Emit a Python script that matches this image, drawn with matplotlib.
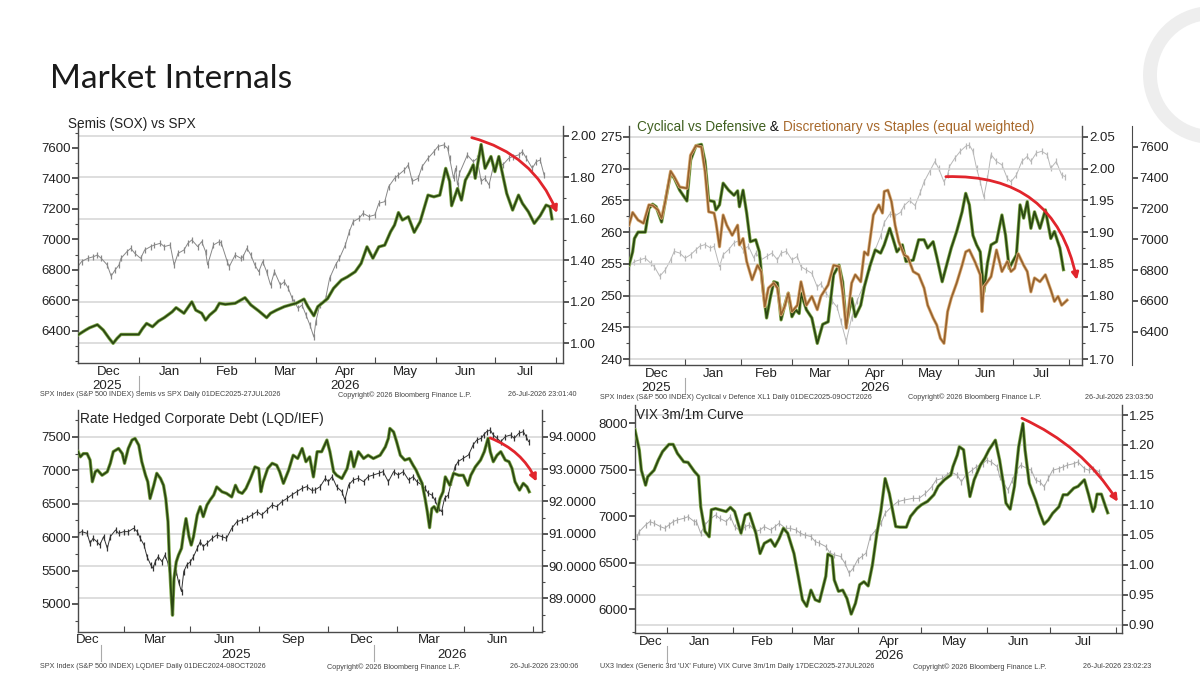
import matplotlib
matplotlib.use("Agg")
import matplotlib.pyplot as plt
import matplotlib.dates as mdates
import matplotlib.transforms as mtransforms
from matplotlib.patches import Arc
from matplotlib.ticker import MultipleLocator, FormatStrFormatter
import pandas as pd

# ---------------- data ----------------
# every series is (day offset from the chart's first date, value)

# Semis (SOX) vs SPX, first date 01 Dec 2025
semis_day = [0, 4, 6, 10, 13, 16, 18, 20, 22, 31,
             33, 35, 38, 41, 44, 48, 50, 54, 58, 60,
             63, 65, 67, 70, 72, 75, 80, 85, 88, 92,
             96, 98, 101, 105, 109, 111, 115, 117, 120, 122,
             125, 127, 130, 134, 137, 141, 144, 147, 150, 153,
             156, 159, 161, 163, 165, 168, 171, 174, 178, 181,
             184, 187, 189, 190, 193, 195, 197, 199, 201, 202,
             205, 207, 210, 212, 214, 216, 218, 221, 224, 226,
             229, 232, 235, 238, 240, 241]
semis_ratio = [1.04, 1.064, 1.075, 1.09, 1.064, 1.024, 1.00, 1.024, 1.043, 1.043,
               1.072, 1.096, 1.08, 1.107, 1.124, 1.152, 1.172, 1.145, 1.20, 1.16,
               1.145, 1.112, 1.136, 1.16, 1.193, 1.188, 1.193, 1.22, 1.185, 1.156,
               1.124, 1.145, 1.16, 1.177, 1.188, 1.193, 1.213, 1.177, 1.133, 1.177,
               1.20, 1.216, 1.265, 1.305, 1.32, 1.345, 1.385, 1.465, 1.41, 1.465,
               1.473, 1.538, 1.57, 1.63, 1.594, 1.61, 1.535, 1.586, 1.714, 1.706,
               1.714, 1.843, 1.78, 1.663, 1.746, 1.69, 1.786, 1.82, 1.86, 1.795,
               1.958, 1.843, 1.90, 1.827, 1.90, 1.81, 1.722, 1.642, 1.714, 1.674,
               1.634, 1.578, 1.615, 1.666, 1.658, 1.60]
spx1_day = [0, 2, 5, 8, 10, 12, 15, 17, 19, 21,
            22, 25, 27, 29, 32, 34, 37, 39, 42, 44,
            47, 49, 51, 54, 56, 58, 61, 63, 65, 66,
            69, 72, 73, 76, 77, 80, 83, 84, 86, 88,
            90, 92, 94, 96, 98, 100, 103, 105, 107, 109,
            110, 112, 114, 116, 118, 120, 121, 123, 126, 128,
            131, 133, 136, 138, 140, 143, 145, 148, 151, 153,
            156, 158, 161, 163, 166, 168, 170, 173, 175, 178,
            181, 183, 186, 188, 189, 191, 192, 193, 194, 198,
            201, 203, 205, 207, 209, 211, 214, 216, 219, 221,
            224, 226, 228, 231, 233, 235, 237]
spx1_close = [6822, 6855, 6876, 6887, 6898, 6876, 6833, 6760, 6800, 6833,
              6876, 6920, 6942, 6909, 6876, 6931, 6953, 6964, 6975, 6953,
              6964, 6833, 6909, 6931, 6975, 6997, 6953, 6986, 6920, 6833,
              6964, 6986, 6975, 6855, 6822, 6898, 6876, 6887, 6942, 6898,
              6833, 6789, 6855, 6789, 6701, 6789, 6701, 6723, 6680, 6614,
              6592, 6549, 6570, 6505, 6439, 6360, 6461, 6570, 6614, 6745,
              6833, 6876, 6964, 7051, 7117, 7139, 7171, 7150, 7161, 7237,
              7248, 7346, 7401, 7423, 7456, 7489, 7381, 7401, 7478, 7532,
              7576, 7609, 7620, 7598, 7532, 7401, 7467, 7357, 7434, 7554,
              7510, 7532, 7381, 7401, 7357, 7467, 7510, 7489, 7532, 7543,
              7554, 7576, 7532, 7467, 7510, 7521, 7423]

# Cyclical vs Defensive (left) & Discretionary vs Staples (right), first date 01 Dec 2025
cyc_day = [0, 2, 3, 5, 9, 11, 13, 15, 18, 20,
           23, 25, 28, 32, 34, 37, 40, 42, 44, 47,
           48, 50, 52, 55, 58, 60, 61, 63, 65, 67,
           70, 72, 74, 76, 78, 80, 82, 84, 86, 88,
           90, 92, 94, 95, 98, 101, 104, 107, 110, 113,
           116, 118, 120, 123, 125, 128, 130, 133, 136, 139,
           141, 144, 146, 148, 151, 153, 157, 160, 163, 165,
           168, 170, 173, 176, 178, 181, 184, 186, 188, 190,
           192, 194, 196, 198, 200, 203, 206, 208, 210, 212,
           214, 216, 218, 220, 222, 224, 227, 230, 233, 235,
           238, 240]
cyc_val = [254.8, 256.9, 259.0, 260.0, 260.0, 263.7, 264.4, 264.0, 261.6, 264.8,
           269.2, 268.5, 266.6, 264.9, 271.3, 273.6, 273.8, 271.1, 265.0, 264.8,
           263.5, 264.3, 267.7, 266.6, 265.8, 266.5, 264.0, 266.6, 263.0, 258.5,
           258.8, 256.9, 251.2, 246.5, 249.6, 252.2, 252.0, 246.2, 248.5, 250.4,
           246.7, 247.8, 247.2, 250.4, 247.8, 246.5, 242.5, 245.5, 245.9, 253.3,
           254.8, 252.2, 245.4, 249.6, 246.7, 248.5, 251.4, 254.6, 257.2, 256.7,
           258.0, 260.6, 258.8, 256.9, 258.0, 255.4, 255.6, 258.8, 258.8, 257.5,
           258.5, 256.1, 252.2, 255.4, 257.5, 260.1, 263.2, 266.1, 264.3, 259.5,
           258.0, 256.9, 250.6, 255.1, 258.0, 258.5, 262.7, 259.5, 254.3, 255.4,
           256.4, 264.3, 262.2, 264.8, 260.6, 263.2, 260.6, 263.5, 259.0, 260.1,
           257.5, 254.1]
disc_day = [0, 2, 5, 8, 11, 13, 16, 18, 20, 23,
            25, 28, 32, 34, 37, 40, 42, 44, 47, 48,
            50, 52, 54, 57, 60, 61, 63, 65, 68, 71,
            73, 75, 77, 80, 82, 84, 86, 88, 90, 93,
            95, 98, 101, 104, 106, 110, 113, 116, 118, 120,
            123, 125, 128, 130, 132, 135, 138, 140, 141, 143,
            145, 147, 149, 152, 154, 157, 160, 163, 165, 168,
            170, 172, 174, 176, 178, 181, 184, 186, 188, 191,
            194, 195, 196, 198, 200, 203, 206, 209, 211, 213,
            215, 218, 220, 222, 224, 227, 230, 233, 235, 237,
            239, 242]
disc_val = [1.911, 1.931, 1.919, 1.914, 1.943, 1.942, 1.935, 1.922, 1.948, 1.996,
            1.987, 1.971, 1.969, 2.021, 2.036, 2.034, 1.995, 1.932, 1.930, 1.916,
            1.877, 1.927, 1.911, 1.895, 1.911, 1.880, 1.890, 1.854, 1.825, 1.848,
            1.838, 1.783, 1.812, 1.820, 1.812, 1.770, 1.783, 1.804, 1.775, 1.785,
            1.822, 1.785, 1.799, 1.778, 1.799, 1.817, 1.848, 1.846, 1.806, 1.749,
            1.820, 1.833, 1.822, 1.869, 1.864, 1.927, 1.943, 1.930, 1.964, 1.966,
            1.948, 1.911, 1.885, 1.864, 1.861, 1.838, 1.833, 1.812, 1.785, 1.765,
            1.754, 1.733, 1.725, 1.775, 1.796, 1.820, 1.848, 1.869, 1.872, 1.854,
            1.833, 1.775, 1.814, 1.822, 1.830, 1.872, 1.838, 1.854, 1.838, 1.843,
            1.866, 1.848, 1.838, 1.806, 1.828, 1.822, 1.833, 1.809, 1.791, 1.799,
            1.785, 1.793]
spx2_day = [0, 3, 6, 9, 12, 14, 17, 20, 23, 25,
            28, 31, 34, 37, 39, 42, 45, 47, 50, 52,
            55, 58, 60, 63, 66, 69, 70, 73, 76, 79,
            82, 84, 87, 90, 93, 95, 98, 101, 104, 106,
            109, 112, 115, 117, 120, 123, 126, 130, 133, 136,
            139, 141, 144, 147, 150, 152, 155, 158, 161, 163,
            166, 169, 171, 174, 176, 177, 180, 183, 186, 188,
            190, 192, 194, 196, 198, 200, 203, 206, 209, 211,
            214, 217, 220, 222, 225, 228, 231, 233, 236, 239,
            241]
spx2_close = [6822, 6855, 6866, 6877, 6844, 6822, 6760, 6800, 6866, 6921,
              6910, 6877, 6899, 6932, 6954, 6965, 6943, 6954, 6822, 6899,
              6932, 6976, 6987, 6932, 6954, 6877, 6910, 6866, 6888, 6910,
              6866, 6910, 6921, 6866, 6888, 6822, 6800, 6778, 6690, 6712,
              6646, 6602, 6558, 6470, 6338, 6492, 6602, 6712, 6822, 6932,
              7020, 7108, 7163, 7152, 7174, 7218, 7251, 7218, 7306, 7372,
              7438, 7504, 7460, 7372, 7416, 7471, 7526, 7570, 7603, 7610,
              7570, 7460, 7372, 7273, 7394, 7548, 7504, 7482, 7394, 7372,
              7416, 7504, 7537, 7504, 7559, 7570, 7548, 7460, 7504, 7416,
              7405]

# Rate hedged corporate debt LQD/IEF, first date 01 Dec 2024
lqd_day = [1, 4, 8, 13, 17, 20, 24, 27, 33, 40,
           44, 48, 55, 60, 63, 68, 73, 77, 82, 86,
           91, 94, 97, 102, 106, 111, 115, 118, 121, 123,
           125, 127, 129, 132, 135, 139, 142, 145, 149, 152,
           155, 160, 164, 168, 173, 177, 182, 186, 193, 199,
           206, 211, 215, 220, 225, 231, 237, 242, 245, 248,
           254, 260, 266, 270, 275, 282, 288, 294, 300, 305,
           310, 315, 320, 326, 333, 337, 342, 346, 353, 360,
           365, 369, 375, 382, 388, 395, 404, 411, 415, 417,
           422, 426, 431, 437, 443, 448, 452, 455, 460, 464,
           467, 470, 473, 476, 480, 484, 488, 491, 497, 502,
           509, 515, 521, 525, 531, 538, 543, 548, 551, 555,
           560, 565, 571, 576, 580, 584, 590, 595, 600, 603]
lqd_ratio = [93.54, 93.38, 93.48, 93.48, 93.28, 92.61, 92.92, 92.97, 92.81, 92.92,
             93.18, 93.54, 93.64, 93.48, 93.18, 93.64, 93.90, 93.95, 93.74, 93.23,
             92.81, 92.61, 92.09, 92.50, 92.87, 92.71, 92.50, 92.09, 91.37, 90.13,
             89.20, 88.48, 89.62, 90.13, 90.34, 90.55, 91.06, 91.47, 90.91, 90.65,
             90.91, 91.58, 91.84, 91.53, 91.89, 92.04, 92.20, 92.45, 92.30, 92.25,
             92.14, 92.50, 92.30, 92.25, 92.40, 92.71, 93.07, 93.02, 92.30, 92.61,
             93.02, 93.18, 93.12, 92.92, 92.56, 92.97, 93.43, 93.33, 93.64, 93.23,
             93.38, 92.76, 93.54, 93.54, 93.90, 93.54, 92.92, 92.81, 92.71, 93.02,
             93.54, 93.07, 93.54, 93.33, 93.43, 93.33, 93.43, 93.69, 93.95, 94.26,
             94.15, 93.85, 93.43, 93.28, 93.33, 93.12, 92.97, 92.81, 92.56, 92.09,
             91.68, 91.19, 91.78, 91.84, 91.68, 92.09, 92.30, 92.76, 92.50, 92.87,
             92.81, 92.81, 92.50, 92.81, 93.07, 93.28, 93.54, 93.95, 93.54, 93.23,
             93.43, 93.54, 93.28, 93.23, 93.02, 92.61, 92.35, 92.56, 92.45, 92.30]
spx3_day = [1, 6, 13, 17, 21, 26, 30, 35, 40, 44,
            51, 55, 62, 68, 75, 80, 84, 89, 93, 98,
            101, 104, 108, 113, 117, 121, 124, 126, 128, 132,
            135, 139, 142, 146, 151, 155, 160, 164, 168, 173,
            180, 186, 193, 199, 206, 213, 220, 226, 233, 240,
            246, 253, 260, 266, 273, 280, 286, 293, 300, 306,
            313, 317, 324, 331, 335, 340, 346, 353, 357, 362,
            368, 375, 382, 388, 395, 402, 408, 415, 422, 428,
            435, 442, 448, 453, 460, 464, 468, 473, 477, 482,
            486, 490, 495, 499, 504, 508, 515, 522, 528, 533,
            539, 542, 546, 551, 555, 560, 565, 571, 578, 583,
            589, 595, 599, 602]
spx3_close = [6058, 6083, 6058, 5908, 5983, 5933, 5883, 6008, 5833, 6008,
              6108, 6058, 6083, 6083, 6133, 6083, 5983, 5883, 5709, 5584,
              5534, 5634, 5709, 5634, 5734, 5609, 5384, 5185, 5334, 5484,
              5334, 5185, 5484, 5584, 5634, 5709, 5833, 5933, 5858, 5908,
              5983, 6033, 6008, 5983, 6133, 6233, 6257, 6282, 6332, 6382,
              6332, 6407, 6482, 6457, 6532, 6582, 6632, 6682, 6732, 6757,
              6700, 6707, 6757, 6881, 6831, 6906, 6757, 6682, 6557, 6781,
              6856, 6881, 6831, 6906, 6931, 6956, 6981, 6831, 6981, 6931,
              6981, 6856, 6906, 6831, 6781, 6732, 6657, 6632, 6557, 6432,
              6382, 6582, 6632, 6831, 7056, 7131, 7181, 7231, 7380, 7455,
              7480, 7530, 7580, 7605, 7530, 7480, 7430, 7505, 7530, 7480,
              7555, 7580, 7505, 7430]

# VIX 3m/1m curve, first date 17 Dec 2025
vix_day = [0, 2, 3, 5, 6, 9, 11, 13, 16, 18,
           20, 23, 25, 28, 30, 31, 33, 35, 36, 38,
           40, 43, 45, 47, 50, 52, 54, 57, 59, 61,
           64, 66, 68, 70, 72, 75, 77, 79, 81, 83,
           85, 87, 90, 91, 93, 94, 96, 98, 100, 102,
           104, 106, 108, 110, 112, 114, 116, 118, 120, 123,
           125, 128, 130, 133, 135, 138, 141, 143, 146, 149,
           150, 152, 153, 155, 156, 158, 160, 163, 165, 167,
           170, 172, 174, 175, 177, 179, 181, 183, 184, 186,
           189, 191, 193, 195, 197, 200, 202, 204, 207, 209,
           212, 214, 216, 217, 218, 220, 222, 223]
vix_ratio = [1.225, 1.192, 1.158, 1.133, 1.147, 1.158, 1.175, 1.189, 1.201, 1.201,
             1.186, 1.172, 1.171, 1.156, 1.148, 1.097, 1.056, 1.047, 1.092, 1.094,
             1.092, 1.089, 1.096, 1.089, 1.053, 1.083, 1.086, 1.053, 1.019, 1.036,
             1.042, 1.031, 1.044, 1.061, 1.053, 1.019, 0.981, 0.942, 0.931, 0.958,
             0.942, 0.939, 0.981, 1.018, 1.014, 0.975, 0.956, 0.958, 0.944, 0.918,
             0.936, 0.967, 0.972, 0.965, 1.000, 1.050, 1.090, 1.144, 1.119, 1.064,
             1.063, 1.063, 1.081, 1.094, 1.100, 1.106, 1.117, 1.131, 1.142, 1.150,
             1.164, 1.183, 1.197, 1.192, 1.164, 1.114, 1.142, 1.167, 1.178, 1.192,
             1.208, 1.175, 1.131, 1.103, 1.093, 1.131, 1.197, 1.236, 1.192, 1.136,
             1.108, 1.086, 1.068, 1.075, 1.086, 1.097, 1.117, 1.117, 1.128, 1.131,
             1.142, 1.117, 1.089, 1.097, 1.118, 1.118, 1.097, 1.087]
spx4_day = [1, 2, 5, 7, 9, 12, 14, 16, 18, 20,
            23, 25, 28, 29, 31, 33, 35, 38, 40, 43,
            45, 47, 50, 52, 54, 57, 59, 61, 64, 66,
            68, 71, 73, 76, 78, 80, 83, 85, 87, 90,
            92, 94, 97, 99, 101, 103, 105, 107, 109, 111,
            113, 116, 118, 121, 124, 127, 131, 134, 137, 140,
            142, 145, 147, 149, 152, 154, 156, 159, 161, 164,
            166, 168, 171, 172, 174, 176, 178, 180, 182, 185,
            187, 189, 191, 193, 195, 197, 200, 202, 204, 207,
            209, 212, 214, 216, 219, 220]
spx4_close = [6779, 6833, 6904, 6940, 6922, 6886, 6868, 6904, 6940, 6958,
              6975, 6993, 6940, 6940, 6815, 6904, 6958, 7011, 6975, 6940,
              6993, 6886, 6833, 6886, 6904, 6833, 6850, 6886, 6850, 6886,
              6922, 6868, 6868, 6850, 6815, 6797, 6779, 6726, 6708, 6672,
              6601, 6583, 6565, 6493, 6386, 6440, 6529, 6565, 6601, 6779,
              6833, 6920, 7029, 7100, 7154, 7172, 7190, 7190, 7243, 7315,
              7386, 7404, 7440, 7475, 7440, 7368, 7440, 7493, 7529, 7564,
              7600, 7582, 7529, 7422, 7350, 7279, 7386, 7493, 7547, 7511,
              7493, 7386, 7368, 7315, 7404, 7493, 7511, 7529, 7547, 7564,
              7582, 7511, 7493, 7511, 7475, 7422]

MONTHS = ['Dec', 'Jan', 'Feb', 'Mar', 'Apr', 'May', 'Jun', 'Jul']
P3_LABELS = ['Dec', 'Mar', 'Jun', 'Sep', 'Dec', 'Mar', 'Jun']
P3_LABEL_DATES = ['2024-12-15', '2025-03-15', '2025-06-15', '2025-09-15',
                  '2025-12-15', '2026-03-15', '2026-06-15']
P3_TICK_DATES = ['2025-02-01', '2025-05-01', '2025-08-01', '2025-11-01',
                 '2026-02-01', '2026-05-01', '2026-08-01']

# ---------------- styling ----------------
W, H = 1200, 675
plt.rcParams['font.family'] = ['Liberation Sans', 'DejaVu Sans']
AXIS = '#4a4a4a'
TXT = '#222222'
GRID = '#d4d4d4'
GREEN_EDGE = '#80aa4c'
GREEN = '#2b4712'
ORANGE_EDGE = '#dcae78'
ORANGE = '#96622e'
RED = '#e1252c'
TICK_FS = 9.5
TITLE_FS = 9.8

fig = plt.figure(figsize=(12, 6.75), dpi=100)
fig.patch.set_facecolor('white')


def box(l, t, r, b):
    return [l / W, 1 - b / H, (r - l) / W, (b - t) / H]


def dates(start, days):
    return (pd.Timestamp(start) + pd.to_timedelta(days, unit='D')).values


def day_num(start, d):
    return mdates.date2num(pd.Timestamp(start) + pd.Timedelta(days=d))


def green_line(ax, x, y):
    ax.plot(x, y, color=GREEN_EDGE, lw=2.4, solid_joinstyle='round', zorder=3)
    ax.plot(x, y, color=GREEN, lw=1.3, solid_joinstyle='round', zorder=4)


def spx_bars(ax, x, y, color):
    ax.plot(x, y, color=color, lw=0.7, marker='|', ms=5, mew=0.9, zorder=2)


def grid_lines(ax, ref_ax, values):
    trans = mtransforms.blended_transform_factory(ax.transAxes, ref_ax.transData)
    for v in values:
        ax.plot([0, 1], [v, v], transform=trans, color=GRID, lw=1.1, zorder=0.5)


def style_axes(ax, axr):
    ax.patch.set_visible(False)
    ax.spines['top'].set_visible(False)
    ax.spines['right'].set_visible(False)
    for s in ('top', 'left', 'bottom'):
        axr.spines[s].set_visible(False)
    for a in (ax, axr):
        for s in a.spines.values():
            s.set_color(AXIS)
            s.set_linewidth(1.0)
        a.tick_params(axis='y', which='major', direction='out', length=4, width=1.3,
                      colors=AXIS, labelcolor=TXT, labelsize=TICK_FS, pad=1)
        a.tick_params(axis='y', which='minor', direction='out', length=2.5, width=0.8,
                      colors=AXIS)
    ax.tick_params(axis='x', which='major', direction='in', length=4, width=0.8,
                   colors=AXIS, labelbottom=False)
    ax.tick_params(axis='x', which='minor', length=0, labelsize=TICK_FS,
                   labelcolor=TXT, pad=2)


def month_axis(ax, first_month, x0, x1, labels):
    starts = pd.date_range(first_month, periods=len(labels) + 1, freq='MS')
    ticks = [s for s in starts if x0 < s < x1]
    mids = []
    for s, e in zip(starts[:-1], starts[1:]):
        a, b = max(s, x0), min(e, x1)
        mids.append(a + (b - a) / 2)
    ax.set_xticks(mdates.date2num(ticks))
    ax.set_xticks(mdates.date2num(mids), minor=True)
    ax.set_xticklabels(labels, minor=True)


def year_marks(ax, years, seps, h_px):
    trans = mtransforms.blended_transform_factory(ax.transData, ax.transAxes)
    for text, d in years:
        ax.text(mdates.date2num(pd.Timestamp(d)), -23 / h_px, text, transform=trans,
                ha='center', va='center', fontsize=TICK_FS, color=TXT)
    for d in seps:
        x = mdates.date2num(pd.Timestamp(d))
        ax.plot([x, x], [-13 / h_px, -29 / h_px], transform=trans, color='#aaaaaa',
                lw=0.8, clip_on=False)


def red_arrow(ax, start, end, rad):
    ax.annotate('', xy=end, xytext=start, xycoords='axes fraction',
                textcoords='axes fraction',
                arrowprops=dict(arrowstyle='-|>', color=RED, lw=2.0, mutation_scale=10,
                                shrinkA=0, shrinkB=0,
                                connectionstyle='arc3,rad=%s' % rad), zorder=10)


def footer(y, parts):
    for x, text in parts:
        fig.text(x / W, 1 - y / H, text, fontsize=5.2, color='#444444', va='center')


# ---------------- panel 1: Semis vs SPX ----------------
p1_start = '2025-12-01'
ax1 = fig.add_axes(box(77.7, 126, 563, 363.3))
ax1r = ax1.twinx()
style_axes(ax1, ax1r)
spx_bars(ax1, dates(p1_start, spx1_day), spx1_close, '#888888')
green_line(ax1r, dates(p1_start, semis_day), semis_ratio)
grid_lines(ax1, ax1r, [1.0, 1.2, 1.4, 1.6, 1.8, 2.0])
x0, x1 = pd.Timestamp(p1_start), pd.Timestamp(p1_start) + pd.Timedelta(days=246.6)
month_axis(ax1, p1_start, x0, x1, MONTHS)
ax1.set_xlim(mdates.date2num(x0), mdates.date2num(x1))
ax1.set_ylim(6188, 7744)
ax1.set_yticks(range(6400, 7601, 200))
ax1.yaxis.set_minor_locator(MultipleLocator(100))
ax1r.set_ylim(0.904, 2.047)
ax1r.set_yticks([1.0, 1.2, 1.4, 1.6, 1.8, 2.0])
ax1r.yaxis.set_minor_locator(MultipleLocator(0.1))
ax1r.yaxis.set_major_formatter(FormatStrFormatter('%.2f'))
year_marks(ax1, [('2025', '2025-12-16'), ('2026', '2026-04-16')], ['2026-01-01'], 237.3)
red_arrow(ax1r, (0.812, 0.951), (0.988, 0.633), -0.25)
fig.text(68 / W, 1 - 124 / H, 'Semis (SOX) vs SPX', fontsize=TITLE_FS, color=TXT, va='center')
footer(395, [(40, 'SPX Index (S&P 500 INDEX) Semis vs SPX Daily 01DEC2025-27JUL2026'),
             (338, 'Copyright\u00a9 2026 Bloomberg Finance L.P.'),
             (508, '26-Jul-2026 23:01:40')])

# ---------------- panel 2: Cyclical vs Defensive ----------------
p2_start = '2025-12-01'
ax2 = fig.add_axes(box(629, 126, 1082.3, 365))
ax2r = ax2.twinx()
ax2s = ax2.twinx()
ax2s.set_zorder(-1)
style_axes(ax2, ax2r)
for s in ('top', 'left', 'bottom'):
    ax2s.spines[s].set_visible(False)
ax2s.spines['right'].set_position(('outward', 36))
ax2s.spines['right'].set_color(AXIS)
ax2s.tick_params(axis='y', direction='out', length=4, width=1.3, colors=AXIS,
                 labelcolor=TXT, labelsize=TICK_FS, pad=1)
spx_bars(ax2s, dates(p2_start, spx2_day), spx2_close, '#b8b8b8')
green_line(ax2, dates(p2_start, cyc_day), cyc_val)
ax2r.plot(dates(p2_start, disc_day), disc_val, color=ORANGE_EDGE, lw=2.3, zorder=3)
ax2r.plot(dates(p2_start, disc_day), disc_val, color=ORANGE, lw=1.2, zorder=4)
grid_lines(ax2, ax2, range(240, 276, 5))
x0, x1 = pd.Timestamp(p2_start), pd.Timestamp(p2_start) + pd.Timedelta(days=250.4)
month_axis(ax2, p2_start, x0, x1, MONTHS)
ax2.set_xlim(mdates.date2num(x0), mdates.date2num(x1))
ax2.set_ylim(239.1, 276.7)
ax2.set_yticks(range(240, 276, 5))
ax2.yaxis.set_minor_locator(MultipleLocator(2.5))
ax2r.set_ylim(1.691, 2.067)
ax2r.set_yticks([1.70, 1.75, 1.80, 1.85, 1.90, 1.95, 2.00, 2.05])
ax2r.yaxis.set_minor_locator(MultipleLocator(0.025))
ax2r.yaxis.set_major_formatter(FormatStrFormatter('%.2f'))
ax2s.set_ylim(6184, 7734)
ax2s.set_yticks(range(6400, 7601, 200))
year_marks(ax2, [('2025', '2025-12-16'), ('2026', '2026-04-16')], ['2026-01-01'], 239)
red_arrow(ax2r, (0.699, 0.788), (0.988, 0.356), -0.42)

renderer = fig.canvas.get_renderer()
tx = 637
for text, col in [('Cyclical vs Defensive', '#3f5f1f'), (' & ', '#111111'),
                  ('Discretionary vs Staples (equal weighted)', '#a8692c')]:
    t = fig.text(tx / W, 1 - 127 / H, text, fontsize=TITLE_FS, color=col, va='center')
    tx = t.get_window_extent(renderer).x1
footer(397, [(600, 'SPX Index (S&P 500 INDEX) Cyclical v Defence XL1 Daily 01DEC2025-09OCT2026'),
             (908, 'Copyright\u00a9 2026 Bloomberg Finance L.P.'),
             (1085, '26-Jul-2026 23:03:50')])

# ---------------- panel 3: LQD/IEF ----------------
p3_start = '2024-12-01'
ax3 = fig.add_axes(box(77.7, 410, 541.7, 631.7))
ax3r = ax3.twinx()
style_axes(ax3, ax3r)
spx_bars(ax3, dates(p3_start, spx3_day), spx3_close, '#333333')
green_line(ax3r, dates(p3_start, lqd_day), lqd_ratio)
grid_lines(ax3, ax3r, range(89, 95))
ax3.set_xticks(mdates.date2num([pd.Timestamp(d) for d in P3_TICK_DATES]))
ax3.set_xticks(mdates.date2num([pd.Timestamp(d) for d in P3_LABEL_DATES]), minor=True)
ax3.set_xticklabels(P3_LABELS, minor=True)
ax3.set_xlim(day_num(p3_start, 0.5), day_num(p3_start, 619.6))
ax3.set_ylim(4585, 7904)
ax3.set_yticks(range(5000, 7501, 500))
ax3.yaxis.set_minor_locator(MultipleLocator(250))
ax3r.set_ylim(87.97, 94.83)
ax3r.set_yticks(range(89, 95))
ax3r.yaxis.set_minor_locator(MultipleLocator(0.5))
ax3r.yaxis.set_major_formatter(FormatStrFormatter('%.4f'))
year_marks(ax3, [('2025', '2025-07-01'), ('2026', '2026-04-15')],
           ['2025-01-01', '2026-01-01'], 221.7)
red_arrow(ax3r, (0.889, 0.874), (0.989, 0.677), -0.2)
fig.text(80 / W, 1 - 419 / H, 'Rate Hedged Corporate Debt (LQD/IEF)', fontsize=TITLE_FS,
         color=TXT, va='center')
footer(667, [(40, 'SPX Index (S&P 500 INDEX) LQD/IEF Daily 01DEC2024-08OCT2026'),
             (327, 'Copyright\u00a9 2026 Bloomberg Finance L.P.'),
             (510, '26-Jul-2026 23:00:06')])

# ---------------- panel 4: VIX curve ----------------
p4_start = '2025-12-17'
ax4 = fig.add_axes(box(635, 405, 1121.7, 633.3))
ax4r = ax4.twinx()
style_axes(ax4, ax4r)
spx_bars(ax4, dates(p4_start, spx4_day), spx4_close, '#aaaaaa')
green_line(ax4r, dates(p4_start, vix_day), vix_ratio)
grid_lines(ax4, ax4r, [0.90, 0.95, 1.00, 1.05, 1.10, 1.15, 1.20, 1.25])
x0, x1 = pd.Timestamp(p4_start), pd.Timestamp(p4_start) + pd.Timedelta(days=229.6)
month_axis(ax4, '2025-12-01', x0, x1, MONTHS)
ax4.set_xlim(mdates.date2num(x0), mdates.date2num(x1))
ax4.set_ylim(5739, 8194)
ax4.set_yticks(range(6000, 8001, 500))
ax4.yaxis.set_minor_locator(MultipleLocator(250))
ax4r.set_ylim(0.886, 1.2667)
ax4r.set_yticks([0.90, 0.95, 1.00, 1.05, 1.10, 1.15, 1.20, 1.25])
ax4r.yaxis.set_minor_locator(MultipleLocator(0.025))
ax4r.yaxis.set_major_formatter(FormatStrFormatter('%.2f'))
year_marks(ax4, [('2026', '2026-04-16')], ['2026-01-01'], 228.3)
red_arrow(ax4r, (0.795, 0.942), (0.992, 0.576), -0.15)
fig.text(636 / W, 1 - 415 / H, 'VIX 3m/1m Curve', fontsize=TITLE_FS, color=TXT, va='center')
footer(667, [(600, "UX3 Index (Generic 3rd 'UX' Future) VIX Curve 3m/1m Daily 17DEC2025-27JUL2026"),
             (913, 'Copyright\u00a9 2026 Bloomberg Finance L.P.'),
             (1083, '26-Jul-2026 23:02:23')])

# ---------------- slide title and corner decoration ----------------
fig.text(50 / W, 1 - 79 / H, 'Market Internals', fontsize=24, color='#1a1a1a',
         va='center', family=['Lato', 'DejaVu Sans'])
fig.add_artist(Arc((1212 / W, 1 - 75 / H), 124 / W, 124 / H, theta1=95, theta2=265,
                   transform=fig.transFigure, color='#eeeeee', lw=10))

fig.savefig('out.png', dpi=100, facecolor='white')
